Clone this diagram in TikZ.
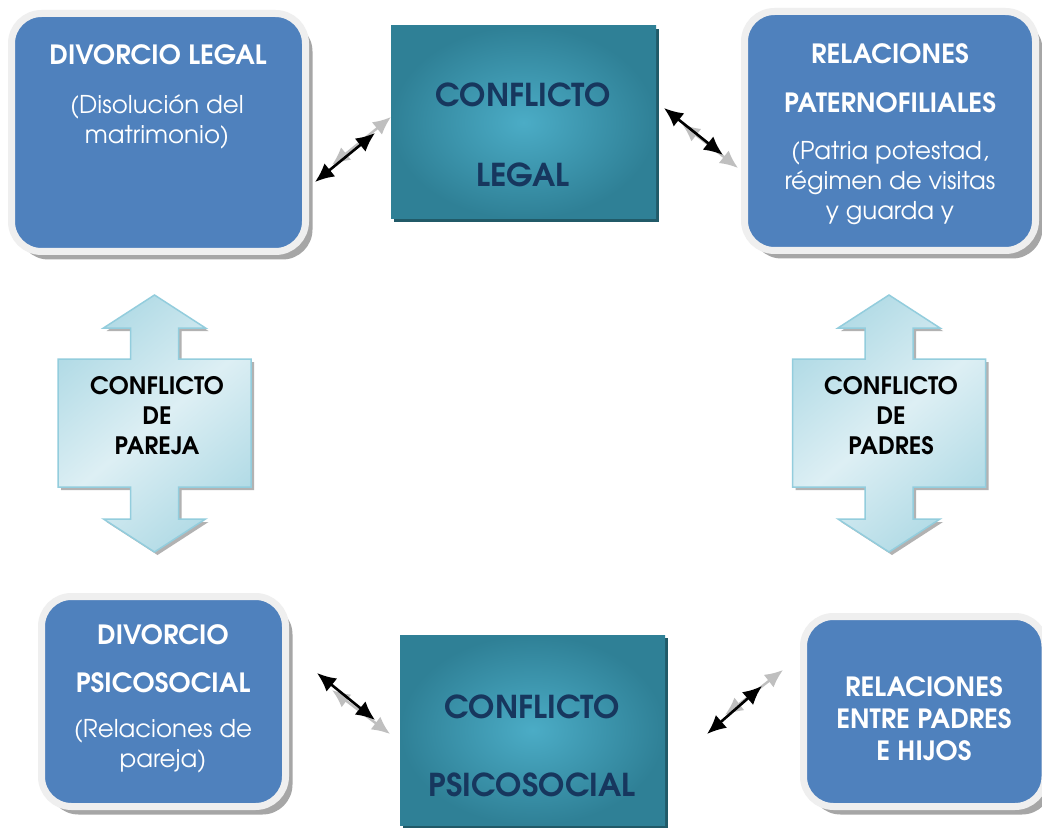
\documentclass[tikz,border=0pt]{standalone}
\usepackage{fontspec}
\setmainfont{texgyreadventor}[Extension=.otf,UprightFont=*-regular,BoldFont=*-bold,ItalicFont=*-italic,BoldItalicFont=*-bolditalic]
\usetikzlibrary{shadows,arrows.meta}

\definecolor{azul}{HTML}{4F81BD}
\definecolor{anillo}{HTML}{EFEFEF}
\definecolor{tealclaro}{HTML}{4BACC6}
\definecolor{tealoscuro}{HTML}{2F8096}
\definecolor{tealsombra}{HTML}{215A68}
\definecolor{marino}{HTML}{17375E}
\definecolor{flechaclara}{HTML}{DDEFF4}
\definecolor{flechaosc}{HTML}{B0DAE5}
\definecolor{flechaborde}{HTML}{93CDDD}
\definecolor{grisflecha}{HTML}{BFBFBF}

\tikzset{
	caja/.style={rectangle,rounded corners=30,inner sep=0,fill=azul,draw=anillo,line width=7,
		drop shadow={shadow xshift=7,shadow yshift=8,fill=black!35,opacity=1}},
	conflicto/.style={rectangle,inner sep=0,inner color=tealclaro,outer color=tealoscuro,
		drop shadow={shadow xshift=3,shadow yshift=3,fill=tealsombra,opacity=1}},
	flecha/.style={draw=flechaborde,line width=1.5,left color=flechaosc,right color=flechaosc,
		middle color=flechaclara,shading angle=40,
		drop shadow={shadow xshift=3,shadow yshift=3,fill=black!30,opacity=1}},
	titulo/.style={text=white,font=\bfseries\fontsize{26.5}{32}\selectfont,align=center,inner sep=0},
	cuerpo/.style={text=white,font=\fontsize{24.5}{30}\selectfont,align=center,inner sep=0},
	textoconf/.style={text=marino,font=\bfseries\fontsize{31.5}{37}\selectfont,align=center,inner sep=0},
	textoflecha/.style={text=black,font=\bfseries\fontsize{24}{30}\selectfont,align=center,inner sep=0},
	negro/.style={<->,>={Latex[length=19pt,width=17pt]},line width=2.6,black},
	gris/.style={<->,>={Latex[length=18pt,width=16pt]},line width=2.4,grisflecha}
}

\begin{document}
\begin{tikzpicture}[x=1pt,y=-1pt]
	\path[use as bounding box,fill=white] (0,0) rectangle (1042,829);

	% cajas
	\node[caja,minimum width=294,minimum height=238] (dl) at (158.5,132.5) {};
	\node[caja,minimum width=291,minimum height=239] (rp) at (890,131) {};
	\node[caja,minimum width=244,minimum height=210] (dp) at (163.5,701.5) {};
	\node[caja,minimum width=241.5,minimum height=190] (rh) at (924.25,711.5) {};
	\node[conflicto,minimum width=265,minimum height=193] (cl) at (523.5,122.5) {};
	\node[conflicto,minimum width=265,minimum height=190] (cp) at (532.5,730) {};

	% flechas dobles
	\begin{scope}[shift={(154.5,423)}]
		\path[flecha] (0,-128) -- (51,-95) -- (24,-95) -- (24,-64) -- (96.5,-64) -- (96.5,64)
			-- (24,64) -- (24,96) -- (51,96) -- (0,129) -- (-51,96) -- (-24,96) -- (-24,64)
			-- (-96.5,64) -- (-96.5,-64) -- (-24,-64) -- (-24,-95) -- (-51,-95) -- cycle;
	\end{scope}
	\begin{scope}[shift={(889,423)}]
		\path[flecha] (0,-128) -- (51,-95) -- (24,-95) -- (24,-64) -- (96.5,-64) -- (96.5,64)
			-- (24,64) -- (24,96) -- (51,96) -- (0,129) -- (-51,96) -- (-24,96) -- (-24,64)
			-- (-96.5,64) -- (-96.5,-64) -- (-24,-64) -- (-24,-95) -- (-51,-95) -- cycle;
	\end{scope}

	% textos
	\node[titulo] (dlt) at (158,55) {DIVORCIO LEGAL};
	\node[cuerpo] (dlb) at (157,122) {(Disolución del\\matrimonio)};
	\node[titulo] (rpt) at (890,78.5) {RELACIONES\\[17pt]PATERNOFILIALES};
	\node[cuerpo] (rpb) at (890,183) {(Patria potestad,\\régimen de visitas\\y guarda y};
	\node[titulo] (dpt) at (163,659) {DIVORCIO\\[16pt]PSICOSOCIAL};
	\node[cuerpo] (dpb) at (163,746.5) {(Relaciones de\\pareja)};
	\node[titulo] (rht) at (924,719) {RELACIONES\\ENTRE PADRES\\E HIJOS};
	\node[textoconf] (clt) at (523,135) {CONFLICTO\\[43pt]LEGAL};
	\node[textoconf] (cpt) at (532,746) {CONFLICTO\\[41pt]PSICOSOCIAL};
	\node[textoflecha] (fpt) at (157,416) {CONFLICTO\\DE\\PAREJA};
	\node[textoflecha] (fdt) at (891,416) {CONFLICTO\\DE\\PADRES};

	% conectores
	\coordinate (a1) at (315,182);	\coordinate (b1) at (375,133);
	\coordinate (g1) at (332,165);	\coordinate (h1) at (391,117);
	\coordinate (a2) at (664,108);	\coordinate (b2) at (723,155);
	\coordinate (g2) at (682,124);	\coordinate (h2) at (738,168);
	\coordinate (a3) at (317,673);	\coordinate (b3) at (375,720);
	\coordinate (g3) at (332,690);	\coordinate (h3) at (390,734);
	\coordinate (a4) at (707,734);	\coordinate (b4) at (762,686);
	\coordinate (g4) at (725,715);	\coordinate (h4) at (783,670);

	\path (g1) edge[gris] (h1);
	\path (g2) edge[gris] (h2);
	\path (g3) edge[gris] (h3);
	\path (g4) edge[gris] (h4);
	\path (a1) edge[negro] (b1);
	\path (a2) edge[negro] (b2);
	\path (a3) edge[negro] (b3);
	\path (a4) edge[negro] (b4);
\end{tikzpicture}
\end{document}
